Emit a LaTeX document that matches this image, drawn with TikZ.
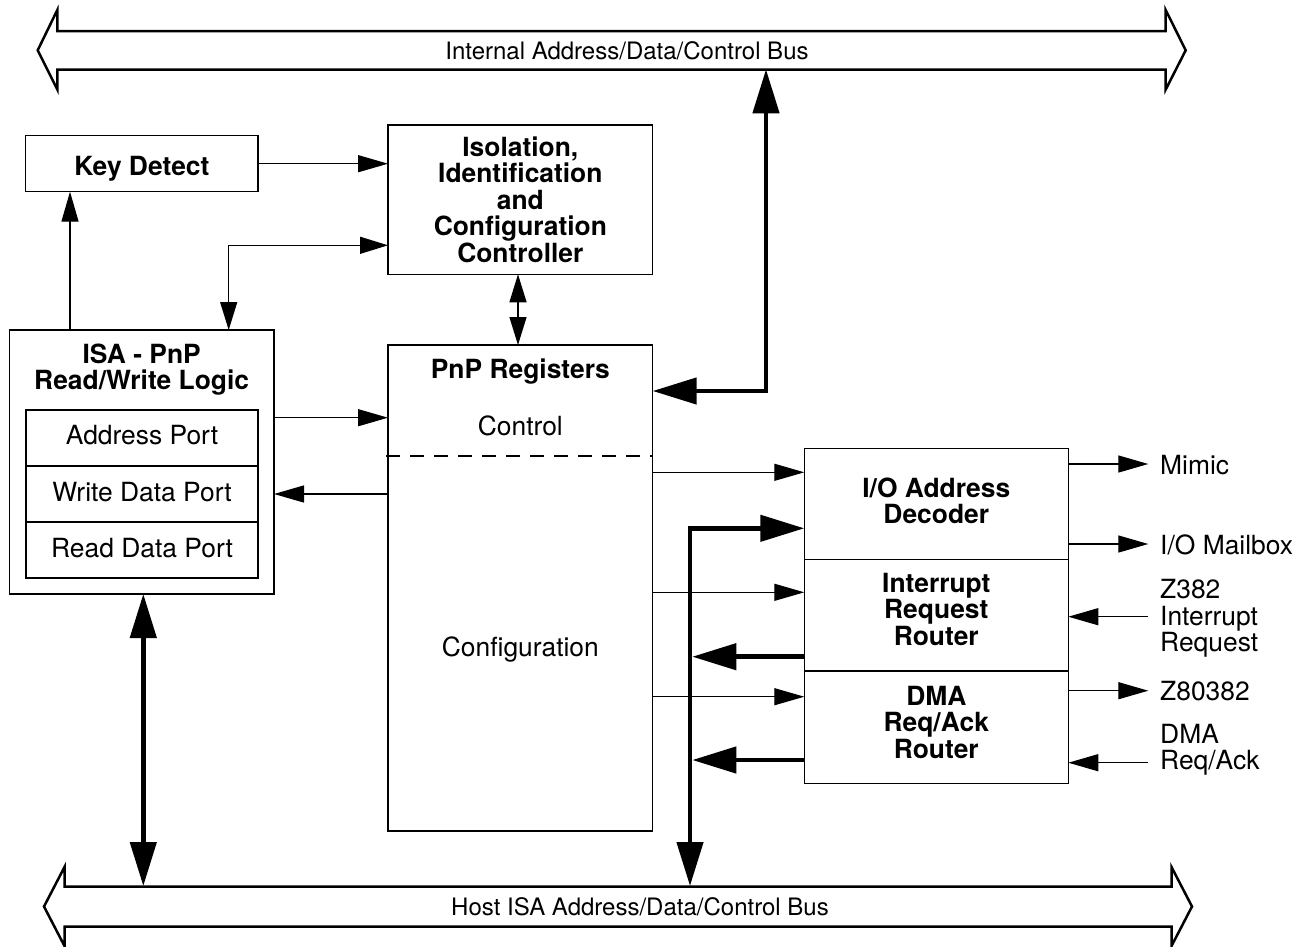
\documentclass[tikz,border=0pt]{standalone}
\usepackage{fontspec}
\setmainfont{TeX Gyre Heros}
\usetikzlibrary{arrows.meta}
\begin{document}
\begin{tikzpicture}[x=1pt,y=-1pt,
  box/.style={draw, line width=1.3pt, inner sep=0pt, outer sep=0pt, align=center,
    font=\bfseries\fontsize{26.4}{26.5}\selectfont},
  cell/.style={draw, line width=1.3pt, inner sep=0pt, outer sep=0pt, align=center,
    minimum width=232pt, minimum height=56pt},
  txt/.style={inner sep=0pt, align=center, font=\fontsize{26.4}{26.5}\selectfont},
  btxt/.style={inner sep=0pt, align=center, font=\bfseries\fontsize{26.4}{26.5}\selectfont},
  rt/.style={inner sep=0pt, anchor=west, align=left, font=\fontsize{26.4}{26.5}\selectfont},
  buslbl/.style={inner sep=0pt, font=\fontsize{24}{26}\selectfont},
  bus/.style={draw, line width=2.5pt, line join=miter, fill=white},
  thinarr/.style={line width=1.3pt, -{Triangle[length=30pt,width=17pt]}},
  thinboth/.style={line width=1.3pt, {Triangle[length=28pt,width=17pt]}-{Triangle[length=28pt,width=17pt]}},
  thickarr/.style={line width=4.5pt, -{Triangle[length=44pt,width=26pt]}},
  thickboth/.style={line width=4.5pt, line join=miter, {Triangle[length=44pt,width=26pt]}-{Triangle[length=44pt,width=26pt]}}
]
\useasboundingbox (0,0) rectangle (1312,946);

% buses
\draw[bus] (37.7,50.3) -- (57.3,10) -- (57.3,31) -- (1165.7,31) -- (1165.7,10) -- (1185.7,50.3)
  -- (1165.7,89.5) -- (1165.7,69.5) -- (57.3,69.5) -- (57.3,89.5) -- cycle;
\node[buslbl] (tbl) at (627,50.3) {Internal Address/Data/Control Bus};
\draw[bus] (44,906.5) -- (64.5,867) -- (64.5,886.5) -- (1171.5,886.5) -- (1171.5,867) -- (1192,906.5)
  -- (1171.5,946) -- (1171.5,926.5) -- (64.5,926.5) -- (64.5,946) -- cycle;
\node[buslbl] (bbl) at (640,906.5) {Host ISA Address/Data/Control Bus};

% boxes
\node[box, minimum width=232.3pt, minimum height=56pt,
  label={[btxt,yshift=-5pt]center:Key Detect}] (kd) at (141.85,163.7) {};
\node[box, minimum width=264.7pt, minimum height=149.3pt] (iso) at (520.35,199.65)
  {Isolation,\\Identification\\and\\Configuration\\Controller};
\node[box, minimum width=264.7pt, minimum height=264pt] (isa) at (141.65,462) {};
\node[btxt] (isat) at (141.65,369.5) {ISA - PnP\\Read/Write Logic};
\node[cell, label={[txt,yshift=3pt]center:Address Port}] (ap) at (142,438) {};
\node[cell, label={[txt,yshift=2pt]center:Write Data Port}] (wd) at (142,494) {};
\node[cell, label={[txt,yshift=2pt]center:Read Data Port}] (rd) at (142,550) {};

\node[box, minimum width=264.7pt, minimum height=486pt] (pnp) at (520.35,588) {};
\node[btxt] (pnpt) at (520.35,372) {PnP Registers};
\node[txt] (ctl) at (520.35,426) {Control};
\draw[line width=1.3pt, dash pattern=on 14pt off 10pt] ([yshift=-111pt,xshift=-2pt]pnp.north west) -- ([yshift=-111pt]pnp.north east);
\node[txt] (cfg) at (520.35,650) {Configuration};

\node[box, minimum width=264pt, minimum height=111pt,
  label={[btxt,yshift=3pt]center:I/O Address\\Decoder}] (io) at (936.3,503.8) {};
\node[box, minimum width=264pt, minimum height=111.7pt,
  label={[btxt,yshift=6pt]center:Interrupt\\Request\\Router}] (irq) at (936.3,615.15) {};
\node[box, minimum width=264pt, minimum height=112.3pt,
  label={[btxt,yshift=5pt]center:DMA\\Req/Ack\\Router}] (dma) at (936.3,727.15) {};

% right labels
\node[rt] (mim) at (1160,465) {Mimic};
\node[rt] (mb) at (1160,545) {I/O Mailbox};
\node[rt] (z382) at (1160,618.5) {Z382\\Interrupt\\Request};
\node[rt] (z80) at (1160,691.5) {Z80382};
\node[rt] (dreq) at (1160,749.7) {DMA\\Req/Ack};

% coordinates
\coordinate (k1) at (70,0);
\coordinate (b1) at (228.7,245.3);
\coordinate (c1) at (518,0);
\coordinate (a1) at (0,417.7);
\coordinate (a2) at (0,494);
\coordinate (r1) at (0,472.3);
\coordinate (r2) at (0,592.3);
\coordinate (r3) at (0,696.7);
\coordinate (tb) at (766,69.3);
\coordinate (tbend) at (766,391);
\coordinate (bb) at (690,886);
\coordinate (bbend) at (690,528.3);
\coordinate (vb) at (692.3,0);
\coordinate (t1) at (0,656.7);
\coordinate (t2) at (0,760);
\coordinate (lb) at (143.3,886);
\coordinate (m1) at (0,464);
\coordinate (m2) at (0,544);
\coordinate (m3) at (0,690.7);
\coordinate (zin) at (1148.3,616.7);
\coordinate (din) at (1148.3,762.7);
\coordinate (ox) at (1148.3,0);

% connectors
\draw[thinarr] (kd.east) -- (kd.east -| iso.west);
\draw[thinarr] (isa.north -| k1) -- (kd.south -| k1);
\draw[thinboth] (iso.west |- b1) -- (b1) -- (isa.north -| b1);
\draw[thinboth] (iso.south -| c1) -- (pnp.north -| c1);
\draw[thinarr] (isa.east |- a1) -- (pnp.west |- a1);
\draw[thinarr] (pnp.west |- a2) -- (isa.east |- a2);
\draw[thinarr] (pnp.east |- r1) -- (io.west |- r1);
\draw[thinarr] (pnp.east |- r2) -- (irq.west |- r2);
\draw[thinarr] (pnp.east |- r3) -- (dma.west |- r3);

\draw[thickboth] (tb) -- (tbend) -- (tbend -| pnp.east);
\draw[thickboth] (bb) -- (bbend) -- (bbend -| io.west);
\draw[thickarr] (irq.west |- t1) -- (vb |- t1);
\draw[thickarr] (dma.west |- t2) -- (vb |- t2);
\draw[thickboth] (isa.south -| lb) -- (lb);

\draw[thinarr] (io.east |- m1) -- (ox |- m1);
\draw[thinarr] (io.east |- m2) -- (ox |- m2);
\draw[thinarr] (zin) -- (zin -| irq.east);
\draw[thinarr] (dma.east |- m3) -- (ox |- m3);
\draw[thinarr] (din) -- (din -| dma.east);
\end{tikzpicture}
\end{document}
